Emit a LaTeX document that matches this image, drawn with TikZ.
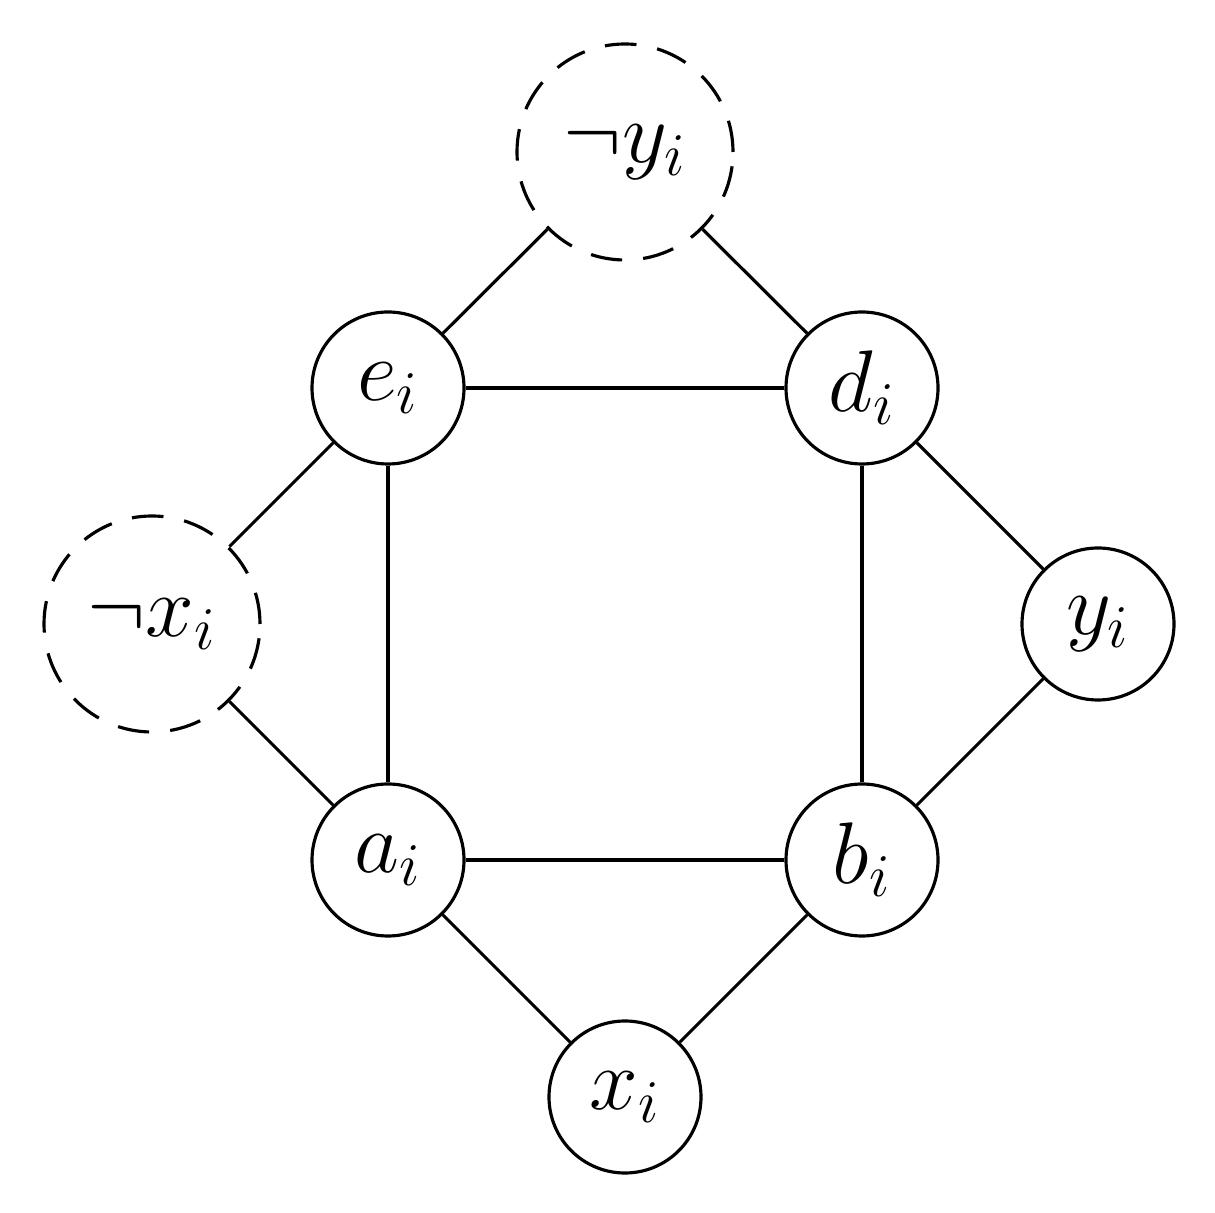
\documentclass[tikz,border=0pt]{standalone}
\usetikzlibrary{positioning}
\tikzset{
  vert/.style={circle,draw=black,line width=0.9pt,minimum size=1.52cm,inner sep=0pt,font=\fontsize{24}{28}\selectfont},
  neg/.style={vert,dashed,dash pattern=on 9pt off 6pt,minimum size=2.16cm},
  edge/.style={line width=0.9pt}
}
\begin{document}
\begin{tikzpicture}
\useasboundingbox (0,0) rectangle (12.15,12.12);
% vertices
\node[vert] (e) at (3.88,8.24) {$e_i$};
\node[vert] (d) at (8.62,8.24) {$d_i$};
\node[vert] (a) at (3.88,3.52) {$a_i$};
\node[vert] (b) at (8.62,3.52) {$b_i$};
\node[vert] (x) at (6.25,1.15) {$x_i$};
\node[vert] (y) at (10.98,5.88) {$y_i$};
\node[neg] (nx) at (1.52,5.88) {$\neg x_i$};
\node[neg] (ny) at (6.25,10.60) {$\neg y_i$};
% edges
\draw[edge] (e) -- (d);
\draw[edge] (a) -- (b);
\draw[edge] (e) -- (a);
\draw[edge] (d) -- (b);
\draw[edge] (a) -- (x);
\draw[edge] (b) -- (x);
\draw[edge] (d) -- (y);
\draw[edge] (b) -- (y);
\draw[edge] (e) -- (nx);
\draw[edge] (a) -- (nx);
\draw[edge] (e) -- (ny);
\draw[edge] (d) -- (ny);
\end{tikzpicture}
\end{document}
